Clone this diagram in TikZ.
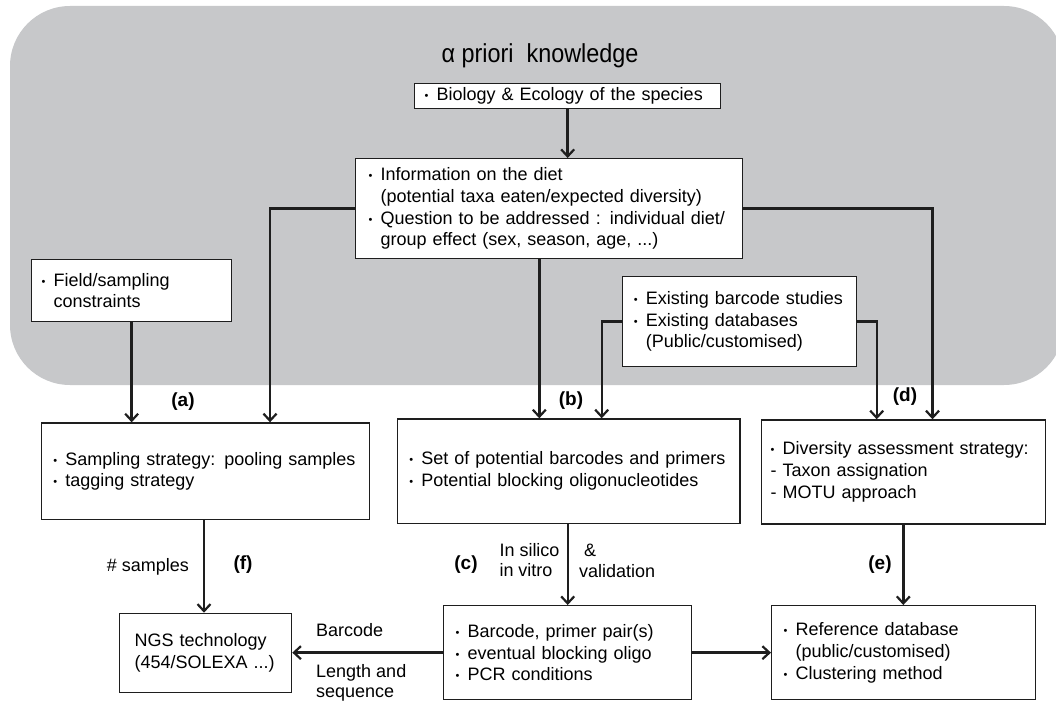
\documentclass[tikz,border=0pt]{standalone}
\usepackage{fontspec}
\setmainfont{Liberation Sans}
\usetikzlibrary{arrows.meta}
\definecolor{bggray}{RGB}{199,200,202}
\definecolor{ink}{RGB}{30,30,30}
\newcommand{\bul}{\makebox[12pt][l]{\raisebox{1pt}{\fontsize{11}{11}\selectfont •}}}
\newcommand{\ind}{\hspace*{12pt}}
\begin{document}
\begin{tikzpicture}[x=1pt,y=-1pt,
  box/.style={draw=ink, line width=1.3pt, fill=white, inner ysep=0pt, align=left,
    anchor=north west, font=\fontsize{18}{21.7}\selectfont},
  conn/.style={draw=ink, line width=2.4pt},
  arr/.style={conn, -{Straight Barb[length=7pt,width=13pt,line width=2.2pt]}},
  lab/.style={font=\fontsize{19}{21}\selectfont\bfseries, inner sep=0pt},
  note/.style={font=\fontsize{18}{20.7}\selectfont, inner sep=0pt, align=left}]
\useasboundingbox (0,0) rectangle (1056,701);
\clip (0,0) rectangle (1056,701);
\fill[bggray, rounded corners=60pt] (10,6) rectangle (1064,385);
\node[inner sep=0pt, font=\fontsize{26}{28}\selectfont] (title) at (540,56)
  {\scalebox{0.9}[1]{α priori\ \ knowledge}};

% boxes
\node[box, inner xsep=10pt, text width=286pt, minimum height=25pt] (bio) at (414,83)
  {\bul Biology \& Ecology of the species};
\node[box, inner xsep=13pt, text width=361pt, minimum height=100pt] (diet) at (355,158)
  {\bul Information on the diet\\
   \ind(potential taxa eaten/expected diversity)\\
   \bul Question to be addressed : individual diet/\\
   \ind group effect (sex, season, age, ...)};
\node[box, inner xsep=10pt, text width=180pt, minimum height=62pt] (field) at (31,259)
  {\bul Field/sampling\\ \ind constraints};
\node[box, inner xsep=11.5pt, text width=211pt, minimum height=90.3pt] (exist) at (621.7,275.7)
  {\bul Existing barcode studies\\
   \bul Existing databases\\
   \ind(Public/customised)};
\node[box, inner xsep=12pt, text width=304.3pt, minimum height=96.7pt] (samp) at (40.7,422.3)
  {\bul Sampling strategy: pooling samples\\
   \bul tagging strategy};
\node[box, inner xsep=12pt, text width=318.6pt, minimum height=104.4pt] (barc) at (396.7,418.3)
  {\bul Set of potential barcodes and primers\\
   \bul Potential blocking oligonucleotides};
\node[box, inner xsep=9pt, text width=266pt, minimum height=104pt] (div) at (761,419.3)
  {\bul Diversity assessment strategy:\\
   - Taxon assignation\\
   - MOTU approach};
\node[box, inner xsep=15pt, text width=142pt, minimum height=79pt] (ngs) at (119,612.7)
  {NGS technology\\ (454/SOLEXA ...)};
\node[box, inner xsep=12pt, text width=224pt, minimum height=94pt] (prim) at (443,605)
  {\bul Barcode, primer pair(s)\\
   \bul eventual blocking oligo\\
   \bul PCR conditions};
\node[box, inner xsep=12pt, text width=240pt, minimum height=94pt] (ref) at (771,605)
  {\bul Reference database\\
   \ind(public/customised)\\
   \bul Clustering method};

% helper x positions
\coordinate (x270) at (270,0);
\coordinate (x539) at (539.3,0);
\coordinate (x602) at (601.7,0);
\coordinate (x877) at (876.7,0);
\coordinate (x932) at (932.5,0);
\coordinate (x204) at (204,0);
\coordinate (x568) at (567.7,0);
\coordinate (x903) at (903.3,0);

% connectors
\draw[arr] (bio.south) -- (diet.north -| bio.south);
\draw[arr] (field.south) -- (field.south |- samp.north);
\draw[arr] (diet.west) -| (x270 |- samp.north);
\draw[arr] (diet.south -| x539) -- (x539 |- barc.north);
\draw[arr] (exist.west) -| (x602 |- barc.north);
\draw[arr] (exist.east) -| (x877 |- div.north);
\draw[arr] (diet.east) -| (x932 |- div.north);
\draw[arr] (samp.south -| x204) -- (x204 |- ngs.north);
\draw[arr] (barc.south -| x568) -- (x568 |- prim.north);
\draw[arr] (div.south -| x903) -- (x903 |- ref.north);
\draw[arr] (prim.west) -- (ngs.east |- prim.west);
\draw[arr] (prim.east) -- (ref.west);

% labels
\node[lab] (la) at (183,402) {(a)};
\node[lab] (lb) at (571,401) {(b)};
\node[lab] (ld) at (905,397) {(d)};
\node[lab] (lc) at (466,565) {(c)};
\node[lab] (le) at (880,565) {(e)};
\node[lab] (lf) at (243,565) {(f)};
\node[note, anchor=east] (ns) at (189,567) {\# samples};
\node[note, anchor=west] (nis) at (499.3,560) {In silico\\in vitro};
\node[note, anchor=west] (namp) at (584,550) {\&};
\node[note, anchor=west] (nval) at (579,570.7) {validation};
\node[note, anchor=west] (nbar) at (316,630) {Barcode};
\node[note, anchor=north west] (nlen) at (316,664) {Length and\\sequence};
\end{tikzpicture}
\end{document}
